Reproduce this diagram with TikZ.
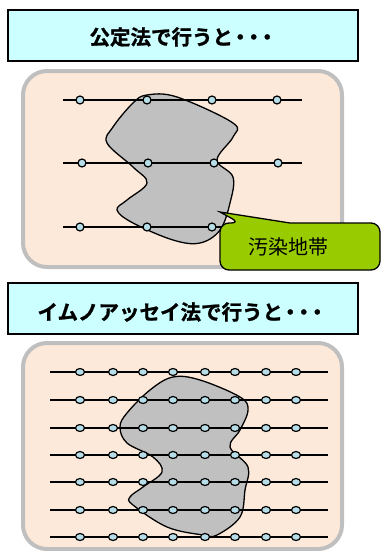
\documentclass[tikz,border=0pt]{standalone}
\usepackage{fontspec}
\usetikzlibrary{shapes.geometric}
\newfontfamily\jp{Noto Sans CJK JP}
\newfontfamily\jpb{Noto Sans CJK JP Bold}[FakeBold=1.2]
\newcommand\tdots{\kern-3pt・\kern-7pt・\kern-7pt・\kern-4pt}
\begin{document}
\begin{tikzpicture}[x=1pt,y=-1pt,
  titlebox/.style={draw=black,line width=1.5pt,fill=titlecyan},
  panel/.style={draw=panelgray,line width=4pt,fill=panelpeach,rounded corners=24pt},
  blob/.style={draw=black,line width=1.3pt,fill=blobgray},
  gridline/.style={draw=black,line width=1.4pt},
  pt/.style={circle,draw=black,line width=1.2pt,fill=ptcyan,inner sep=0pt,minimum size=8pt},
  pte/.style={ellipse,draw=black,line width=1.2pt,fill=ptcyan,inner sep=0pt,minimum width=9pt,minimum height=7pt},
  callout/.style={draw=black,line width=1.3pt,fill=calloutgreen},
  titletext/.style={font=\jpb\fontsize{20.5}{22}\selectfont,inner sep=0pt},
]
\definecolor{titlecyan}{HTML}{CCFFFF}
\definecolor{panelgray}{HTML}{BFBFBF}
\definecolor{panelpeach}{HTML}{FDE9D9}
\definecolor{blobgray}{HTML}{C0C0C0}
\definecolor{ptcyan}{HTML}{B7DEE8}
\definecolor{calloutgreen}{HTML}{99CC00}
\useasboundingbox (0,0) rectangle (381,551);
\clip (0,0) rectangle (381,551);
% ---- title 1
\draw[titlebox] (8,10) rectangle (358,61);
\node[titletext] (t1) at (181.5,37) {公定法で行うと\tdots};
% ---- panel 1
\draw[panel] (23,71) rectangle (342,267);
\draw[blob] plot[smooth cycle,tension=0.6] coordinates {(147,95) (177,97) (233,123) (233,137) (217,160) (233,177) (230,203) (220,230) (200,243) (173,240) (133,223) (117,210) (127,200) (147,183) (133,167) (107,143) (113,127) (133,103)};
\foreach \r/\y in {1/100,2/163,3/227}{
  \coordinate (a\r L) at (63,\y);
  \coordinate (a\r R) at (302,\y);
  \draw[gridline] (a\r L) -- (a\r R);
}
\foreach \x [count=\i] in {80,147,212,277}{\node[pt] (a1-\i) at (\x,100) {};}
\foreach \x [count=\i] in {82,148,214,278}{\node[pt] (a2-\i) at (\x,163) {};}
\foreach \x [count=\i] in {80,147,212,277}{\node[pt] (a3-\i) at (\x,227) {};}
% callout
\draw[callout] (220,246) [rounded corners=9pt] -- (220,223) -- (240,223) [sharp corners] -- (220,212) -- (290,223) [rounded corners=9pt] -- (380,223) -- (380,270) -- (220,270) -- cycle;
\node[font=\jp\fontsize{20}{22}\selectfont] (c1) at (288,247) {汚染地帯};
% ---- title 2
\draw[titlebox] (8,283) rectangle (358,334);
\node[titletext] (t2) at (180.5,312) {イムノアッセイ法で行うと\tdots};
% ---- panel 2
\draw[panel] (23,343) rectangle (342,549);
\draw[blob] plot[smooth cycle,tension=0.6] coordinates {(173,377) (200,380) (240,397) (248,410) (240,430) (230,447) (248,467) (245,490) (240,517) (217,535) (203,535) (167,527) (133,505) (130,497) (143,487) (162,472) (153,457) (127,443) (120,427) (127,413) (150,390)};
\foreach \y [count=\r] in {372,400,428,455,482,510,537}{
  \coordinate (b\r L) at (50,\y);
  \coordinate (b\r R) at (328,\y);
  \draw[gridline] (b\r L) -- (b\r R);
  \foreach \x [count=\i] in {80,113,143,173,205,235,266,296}{\node[pte] (b\r-\i) at (\x,\y) {};}
}
\end{tikzpicture}
\end{document}
